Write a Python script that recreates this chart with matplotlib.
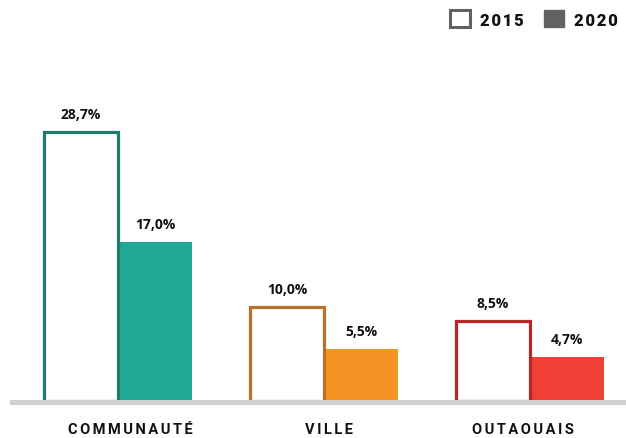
import matplotlib.pyplot as plt
from matplotlib.patches import Patch

categories = ["COMMUNAUTÉ", "VILLE", "OUTAOUAIS"]
vals_2015 = [28.7, 10.0, 8.5]
vals_2020 = [17.0, 5.5, 4.7]
edge_colors = ["#1f7b6e", "#b8702a", "#b92427"]
fill_colors = ["#22a795", "#f59324", "#ee4035"]
legend_labels = ["2015", "2020"]

# small horizontal nudges of the category labels, in pixels
label_dx = [12, 5, -7]


def spaced(s, sep="\u2006"):
    # fake letter spacing
    return sep.join(s)


fig = plt.figure(figsize=(6.26, 4.39), dpi=100)
ax = fig.add_axes([0, 0, 1, 1])

x = list(range(len(categories)))
w = 74 / 206

# 2020 filled bars (drawn first, under the outlines)
ax.bar([i + w / 2 for i in x], vals_2020, width=w, color=fill_colors,
       edgecolor="none", zorder=2)
# 2015 outlined bars
ax.bar([i - w / 2 for i in x], vals_2015, width=w, facecolor="white",
       edgecolor=edge_colors, linewidth=2.3, zorder=3)

for i in x:
    ax.annotate(f"{vals_2015[i]:.1f}%".replace(".", ","), (i - w / 2, vals_2015[i]),
                xytext=(0, 8), textcoords="offset points", ha="center", va="bottom",
                fontsize=10, fontweight="bold", color="#111111", family="Open Sans")
    ax.annotate(f"{vals_2020[i]:.1f}%".replace(".", ","), (i + w / 2, vals_2020[i]),
                xytext=(0, 8), textcoords="offset points", ha="center", va="bottom",
                fontsize=10, fontweight="bold", color="#111111", family="Open Sans")
    ax.text(i + label_dx[i] / 206, -3.0, spaced(categories[i]), ha="center", va="center",
            fontsize=10.5, fontweight="bold", color="#111111",
            family=["Roboto", "DejaVu Sans"])

# baseline
ax.axhline(-0.15, xmin=12 / 626, xmax=1, color="#d0d0d2", linewidth=3.6, zorder=4)

ax.set_xlim(-118 / 206, (626 - 118) / 206)
ax.set_ylim(-37 / 9.37, 402 / 9.37)
ax.axis("off")

handles = [Patch(facecolor="white", edgecolor="#606163", linewidth=2.2),
           Patch(facecolor="#606163", edgecolor="#606163")]
fig.legend(handles, [spaced(l, "\u200a") for l in legend_labels], loc="upper right",
           bbox_to_anchor=(1.0, 0.993), ncol=2, frameon=False,
           prop={"weight": "black", "size": 12, "family": ["Roboto", "DejaVu Sans"]},
           handlelength=1.2, handleheight=1.2, handletextpad=0.6,
           columnspacing=1.2, borderaxespad=0.1, labelcolor="#111111")

fig.savefig("out.png", dpi=100)
